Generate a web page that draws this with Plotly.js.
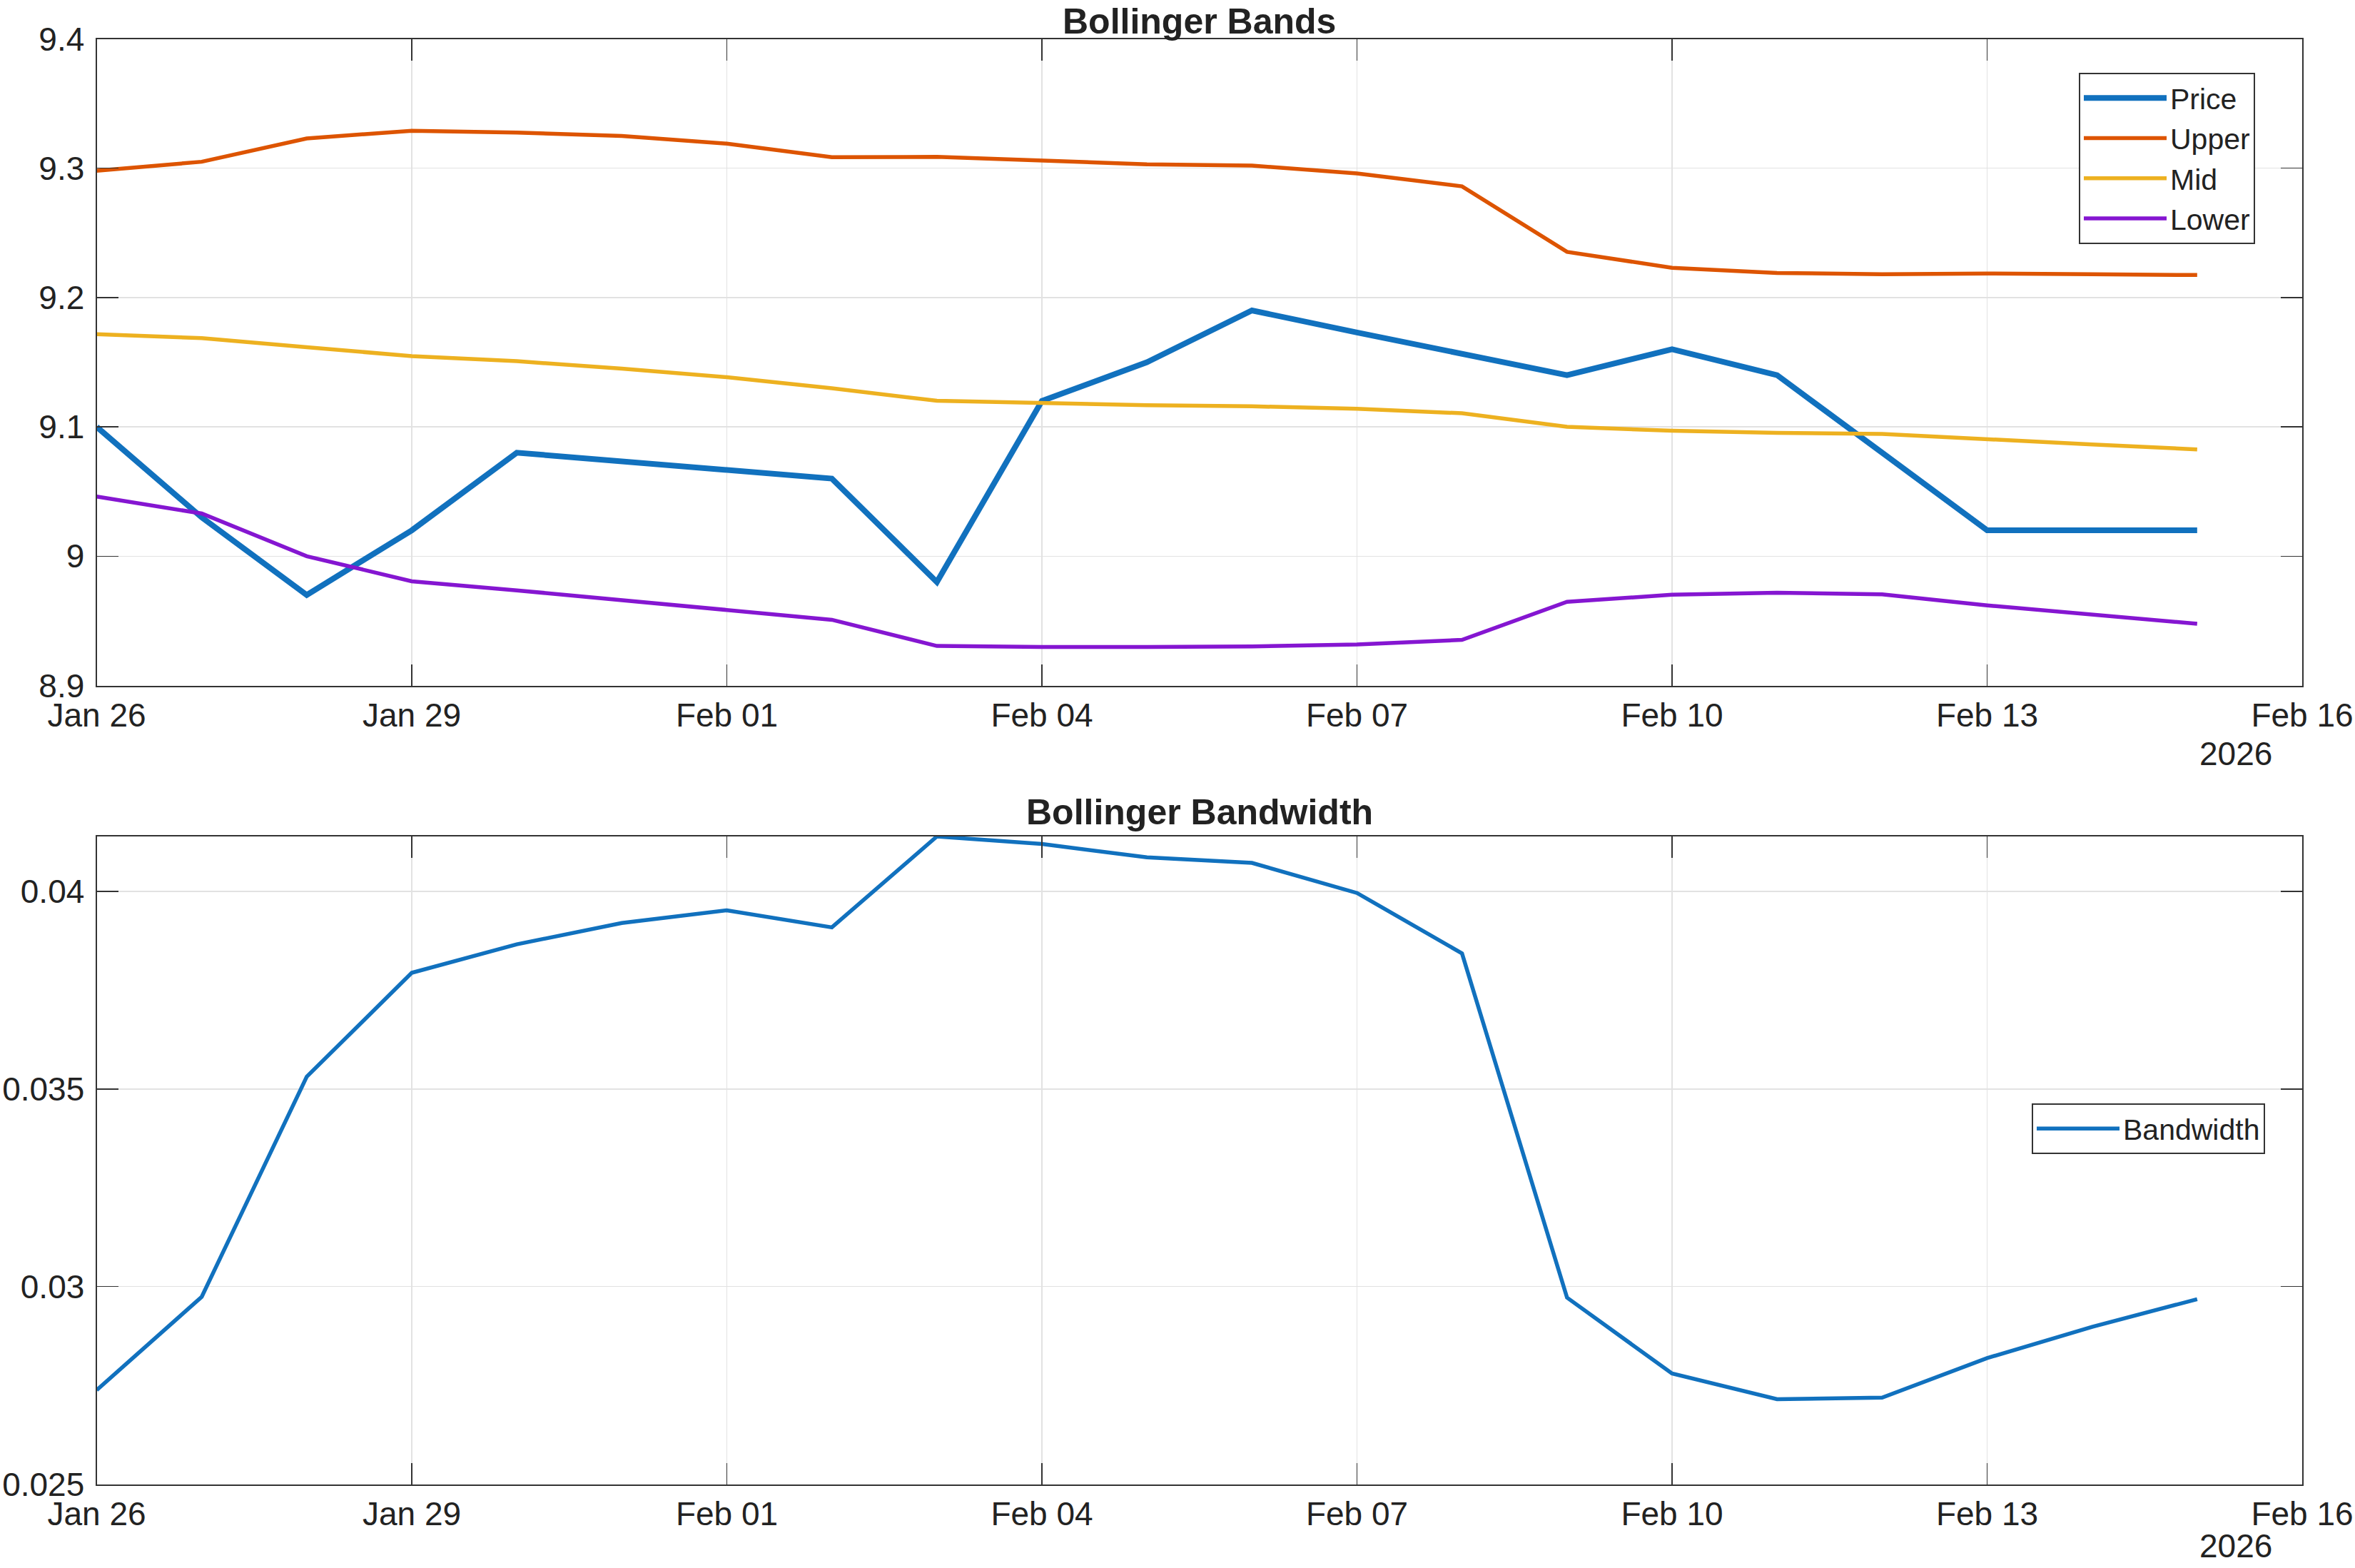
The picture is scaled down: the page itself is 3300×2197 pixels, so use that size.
<!DOCTYPE html>
<html>
<head>
<meta charset="utf-8">
<script src="https://cdn.plot.ly/plotly-3.0.1.min.js"></script>
<style>
html,body{margin:0;padding:0;background:#fff;}
#chart{width:3300px;height:2197px;}
</style>
</head>
<body>
<div id="chart"></div>
<script>
// ---- data ----
const dates = ["2026-01-26","2026-01-27","2026-01-28","2026-01-29","2026-01-30","2026-01-31",
  "2026-02-01","2026-02-02","2026-02-03","2026-02-04","2026-02-05","2026-02-06","2026-02-07",
  "2026-02-08","2026-02-09","2026-02-10","2026-02-11","2026-02-12","2026-02-13","2026-02-14","2026-02-15"];
const price = [9.10,9.03,8.97,9.02,9.08,9.073,9.067,9.06,8.98,9.12,9.15,9.19,9.173,9.157,9.14,9.16,9.14,9.08,9.02,9.02,9.02];
const upper = [9.298,9.305,9.323,9.329,9.3275,9.325,9.319,9.3085,9.3088,9.306,9.303,9.302,9.296,9.286,9.2353,9.223,9.219,9.218,9.2186,9.218,9.2174];
const mid   = [9.1717,9.1686,9.1616,9.1547,9.1508,9.145,9.1384,9.1298,9.1202,9.1182,9.1167,9.1159,9.114,9.1105,9.1000,9.097,9.0953,9.0946,9.0903,9.0864,9.0826];
const lower = [9.0461,9.033,9.0,8.9806,8.9736,8.9659,8.9578,8.9508,8.9306,8.9298,8.9298,8.9302,8.9318,8.9353,8.9647,8.9702,8.9717,8.9705,8.962,8.9547,8.9477];
const bandwidth = [0.02738,0.02974,0.03531,0.03794,0.03866,0.0392,0.03952,0.03909,0.04139,0.0412,0.04086,0.04072,0.03996,0.03843,0.02972,0.02780,0.02715,0.02719,0.02819,0.02898,0.02968];

const xRange = ["2026-01-26","2026-02-16"];
const xTickVals = ["2026-01-26","2026-01-29","2026-02-01","2026-02-04","2026-02-07","2026-02-10","2026-02-13","2026-02-16"];
const xTickText = ["Jan 26","Jan 29","Feb 01","Feb 04","Feb 07","Feb 10","Feb 13","Feb 16"];
const yearLabel = "2026";
const y1TickVals = [8.9,9.0,9.1,9.2,9.3,9.4];
const y1TickText = ["8.9","9","9.1","9.2","9.3","9.4"];
const y2TickVals = [0.025,0.03,0.035,0.04];
const y2TickText = ["0.025","0.03","0.035","0.04"];
const title1 = "Bollinger Bands";
const title2 = "Bollinger Bandwidth";

// ---- style ----
const C = {blue:"#1171BE", orange:"#DD5400", yellow:"#EDB120", purple:"#8516D1"};
const axisCol = "#333333", textCol = "#222222", gridCol = "#e2e2e2";
const FONT = "Liberation Sans, Arial, Helvetica, sans-serif";

const traces = [
  {x:dates, y:price, name:"Price", type:"scatter", mode:"lines", line:{color:C.blue,width:8}, xaxis:"x", yaxis:"y", legend:"legend"},
  {x:dates, y:upper, name:"Upper", type:"scatter", mode:"lines", line:{color:C.orange,width:5.5}, xaxis:"x", yaxis:"y", legend:"legend"},
  {x:dates, y:mid, name:"Mid", type:"scatter", mode:"lines", line:{color:C.yellow,width:5.5}, xaxis:"x", yaxis:"y", legend:"legend"},
  {x:dates, y:lower, name:"Lower", type:"scatter", mode:"lines", line:{color:C.purple,width:5.5}, xaxis:"x", yaxis:"y", legend:"legend"},
  {x:dates, y:bandwidth, name:"Bandwidth", type:"scatter", mode:"lines", line:{color:C.blue,width:5.5}, xaxis:"x2", yaxis:"y2", legend:"legend2"}
];

const xDom = [135.5/3300, 3226/3300];
function xax(anchor){
  return {
    type:"date", range:xRange, domain:xDom, anchor:anchor,
    tickmode:"array", tickvals:xTickVals, ticktext:xTickText,
    ticks:"inside", ticklen:30, tickwidth:1.5, tickcolor:axisCol,
    showline:true, linecolor:axisCol, linewidth:2, mirror:"ticks",
    showgrid:true, gridcolor:gridCol, gridwidth:1.5, zeroline:false,
    tickfont:{family:FONT, size:46, color:textCol},
    ticklabelstandoff:0
  };
}
function yax(anchor, dom, range, tv, tt){
  return {
    domain:dom, anchor:anchor, range:range,
    tickmode:"array", tickvals:tv, ticktext:tt,
    ticks:"inside", ticklen:30, tickwidth:1.5, tickcolor:axisCol,
    showline:true, linecolor:axisCol, linewidth:2, mirror:"ticks",
    showgrid:true, gridcolor:gridCol, gridwidth:1.5, zeroline:false,
    tickfont:{family:FONT, size:46, color:textCol},
    ticklabelstandoff:6
  };
}

const layout = {
  width:3300, height:2197,
  margin:{l:0,r:0,t:0,b:0},
  paper_bgcolor:"#ffffff", plot_bgcolor:"#ffffff",
  font:{family:FONT, color:textCol},
  showlegend:true,
  xaxis: xax("y"),
  yaxis: yax("x", [1-960.5/2197, 1-54.5/2197], [8.9,9.4], y1TickVals, y1TickText),
  xaxis2: xax("y2"),
  yaxis2: yax("x2", [1-2079.5/2197, 1-1172/2197], [0.025, Math.max(...bandwidth)], y2TickVals, y2TickText),
  legend:{x:3160/3300, xanchor:"right", y:1-102/2197, yanchor:"top",
    bgcolor:"#ffffff", bordercolor:axisCol, borderwidth:2,
    font:{family:FONT, size:41, color:textCol}, itemwidth:116, tracegroupgap:0},
  legend2:{x:3174/3300, xanchor:"right", y:1-1581.5/2197, yanchor:"middle",
    bgcolor:"#ffffff", bordercolor:axisCol, borderwidth:2,
    font:{family:FONT, size:41, color:textCol}, itemwidth:116},
  annotations:[
    {text:"<b>"+title1+"</b>", xref:"paper", yref:"paper", x:(xDom[0]+xDom[1])/2, y:1-30/2197,
     xanchor:"center", yanchor:"middle", showarrow:false, font:{family:FONT, size:50, color:textCol}},
    {text:"<b>"+title2+"</b>", xref:"paper", yref:"paper", x:(xDom[0]+xDom[1])/2, y:1-1138/2197,
     xanchor:"center", yanchor:"middle", showarrow:false, font:{family:FONT, size:50, color:textCol}},
    {text:yearLabel, xref:"paper", yref:"paper", x:3186/3300, y:1-1056/2197,
     xanchor:"right", yanchor:"middle", showarrow:false, font:{family:FONT, size:46, color:textCol}},
    {text:yearLabel, xref:"paper", yref:"paper", x:3186/3300, y:1-2166/2197,
     xanchor:"right", yanchor:"middle", showarrow:false, font:{family:FONT, size:46, color:textCol}}
  ]
};

Plotly.newPlot("chart", traces, layout, {staticPlot:true, displayModeBar:false});
</script>
</body>
</html>
